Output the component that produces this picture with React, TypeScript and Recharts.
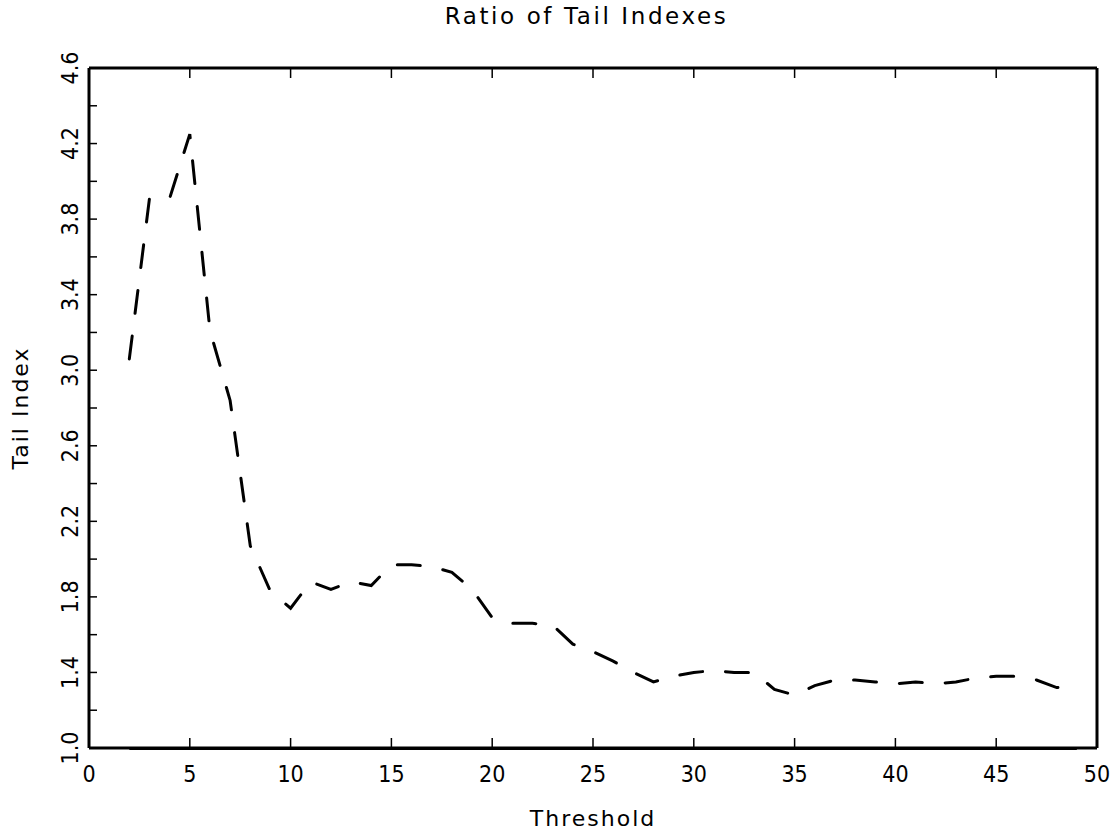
import { Line, LineChart, ReferenceLine, XAxis, YAxis } from "recharts";

const thresholds = [
  2, 3, 4, 5, 6, 7, 8, 9, 10, 11, 12, 13, 14, 15, 16, 17, 18, 19, 20, 21, 22, 23, 24, 25,
  26, 27, 28, 29, 30, 31, 32, 33, 34, 35, 36, 37, 38, 39, 40, 41, 42, 43, 44, 45, 46, 47, 48, 49,
];
const tailIndexRatio = [
  3.06, 3.91, 3.91, 4.25, 3.21, 2.84, 2.07, 1.83, 1.74, 1.88, 1.84, 1.88, 1.86, 1.97, 1.97, 1.96,
  1.93, 1.84, 1.69, 1.66, 1.66, 1.65, 1.55, 1.51, 1.46, 1.4, 1.35, 1.38, 1.4, 1.41, 1.4, 1.4,
  1.31, 1.28, 1.33, 1.36, 1.36, 1.35, 1.34, 1.35, 1.34, 1.35, 1.37, 1.38, 1.38, 1.36, 1.32, 1.33,
];
const xTicks = [0, 5, 10, 15, 20, 25, 30, 35, 40, 45, 50];
const yTicks = [1.0, 1.2, 1.4, 1.6, 1.8, 2.0, 2.2, 2.4, 2.6, 2.8, 3.0, 3.2, 3.4, 3.6, 3.8, 4.0, 4.2, 4.4, 4.6];
const yLabelTicks = ["1.0", "1.4", "1.8", "2.2", "2.6", "3.0", "3.4", "3.8", "4.2", "4.6"];

const data = thresholds.map((t, i) => ({ threshold: t, ratio: tailIndexRatio[i] }));

const tickFont = "'Liberation Sans Narrow', 'DejaVu Sans Condensed', Roboto, sans-serif";
const labelFont = "'DejaVu Sans', Roboto, sans-serif";

function XTick({ x, y, payload }: any) {
  return (
    <text x={x} y={y} textAnchor="middle" fontFamily={tickFont} fontSize={23} fill="#000">
      {payload.value}
    </text>
  );
}

function YTick({ x, y, payload }: any) {
  const label = Number(payload.value).toFixed(1);
  if (!yLabelTicks.includes(label)) return <g />;
  return (
    <text
      x={x}
      y={y}
      transform={`rotate(-90 ${x} ${y})`}
      textAnchor="middle"
      fontFamily={tickFont}
      fontSize={23}
      fill="#000"
    >
      {label}
    </text>
  );
}

function NoLabel() {
  return <g />;
}

const axisLine = { stroke: "#000", strokeWidth: 3 };
const tickLine = { stroke: "#000", strokeWidth: 1.5 };

export default function App() {
  return (
    <div style={{ position: "absolute", left: 0, top: 0, width: 1118, height: 837, background: "#fff" }}>
      <div
        style={{
          position: "absolute",
          left: 0,
          width: 1173,
          top: 3,
          textAlign: "center",
          fontFamily: labelFont,
          fontSize: 23,
          letterSpacing: 2.6,
        }}
      >
        Ratio of Tail Indexes
      </div>
      <div
        style={{
          position: "absolute",
          left: 0,
          width: 1186,
          top: 806,
          textAlign: "center",
          fontFamily: labelFont,
          fontSize: 22,
          letterSpacing: 2,
        }}
      >
        Threshold
      </div>
      <div
        style={{
          position: "absolute",
          left: 20,
          top: 408,
          transform: "translate(-50%, -50%) rotate(-90deg)",
          fontFamily: labelFont,
          fontSize: 22,
          letterSpacing: 2,
          whiteSpace: "nowrap",
        }}
      >
        Tail Index
      </div>
      <LineChart
        width={1118}
        height={837}
        data={data}
        margin={{ top: 67, right: 20, bottom: 29, left: 29 }}
        style={{ position: "absolute", left: 0, top: 0 }}
      >
        <XAxis
          xAxisId="bottom"
          dataKey="threshold"
          type="number"
          domain={[0, 50]}
          ticks={xTicks}
          interval={0}
          height={60}
          axisLine={axisLine}
          tickLine={tickLine}
          tickSize={-10}
          tickMargin={44}
          tick={<XTick />}
        />
        <XAxis
          xAxisId="top"
          orientation="top"
          dataKey="threshold"
          type="number"
          domain={[0, 50]}
          ticks={xTicks}
          interval={0}
          height={1}
          axisLine={axisLine}
          tickLine={tickLine}
          tickSize={-10}
          tick={<NoLabel />}
        />
        <YAxis
          yAxisId="left"
          type="number"
          domain={[1.0, 4.6]}
          ticks={yTicks}
          interval={0}
          width={60}
          axisLine={axisLine}
          tickLine={tickLine}
          tickSize={-8}
          tickMargin={19}
          tick={<YTick />}
        />
        <YAxis
          yAxisId="right"
          orientation="right"
          type="number"
          domain={[1.0, 4.6]}
          ticks={yTicks}
          interval={0}
          width={1}
          axisLine={axisLine}
          tickLine={tickLine}
          tickSize={-8}
          tick={<NoLabel />}
        />
        <ReferenceLine
          xAxisId="bottom"
          yAxisId="left"
          segment={[
            { x: thresholds[0], y: 1.0 },
            { x: thresholds[thresholds.length - 1], y: 1.0 },
          ]}
          stroke="#000"
          strokeWidth={2}
          transform="translate(0, 1)"
        />
        <Line
          xAxisId="bottom"
          yAxisId="left"
          dataKey="ratio"
          type="linear"
          stroke="#000"
          strokeWidth={3}
          strokeDasharray="23 23"
          strokeLinecap="round"
          dot={false}
          isAnimationActive={false}
        />
      </LineChart>
    </div>
  );
}
